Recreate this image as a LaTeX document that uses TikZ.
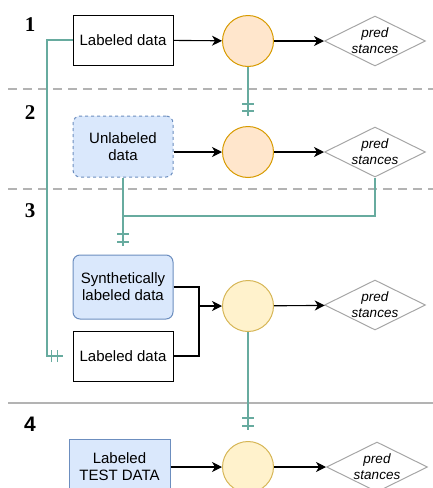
\documentclass[tikz,border=0pt]{standalone}
\usepackage{fontspec}
\setmainfont{Liberation Sans}
\newfontfamily\numserif{Liberation Serif}
\usetikzlibrary{shapes.geometric,arrows.meta,decorations.markings}
\definecolor{tealc}{HTML}{67AB9F}
\definecolor{blueF}{HTML}{DAE8FC}
\definecolor{blueS}{HTML}{6C8EBF}
\definecolor{orF}{HTML}{FFE6CC}
\definecolor{orS}{HTML}{D79B00}
\definecolor{yeF}{HTML}{FFF2CC}
\definecolor{yeS}{HTML}{D6B656}
\definecolor{grayD}{HTML}{A6A6A6}
\definecolor{sepc}{HTML}{B3B3B3}
\begin{document}
\begin{tikzpicture}[x=1pt,y=-1pt,
  box/.style={draw=black, line width=1pt, minimum width=100pt, minimum height=50pt, inner sep=0pt, align=center, font=\fontsize{15}{17}\selectfont},
  bluebox/.style={box, draw=blueS, fill=blueF, rounded corners=7pt},
  circO/.style={circle, draw=orS, fill=orF, minimum size=51pt, inner sep=0pt, line width=1pt},
  circY/.style={circO, draw=yeS, fill=yeF},
  dm/.style={diamond, draw=grayD, minimum width=101pt, minimum height=50pt, inner sep=0pt, line width=1pt},
  lbl/.style={font=\fontsize{13.5}{16}\selectfont\itshape, align=center, inner sep=0pt},
  flow/.style={-{Stealth[length=10pt,width=10pt,inset=3pt]}, line width=1.1pt, draw=black},
  erd/.style={draw=tealc, line width=2pt},
  mand/.style 2 args={postaction={decorate}, decoration={markings,
     mark=at position -#1 with {\draw[tealc,line width=1.8pt] (0pt,-6pt)--(0pt,6pt);},
     mark=at position -#2 with {\draw[tealc,line width=1.8pt] (0pt,-6pt)--(0pt,6pt);}}},
  numA/.style={font=\numserif\bfseries\fontsize{21}{21}\selectfont, inner sep=0pt},
  numB/.style={font=\bfseries\fontsize{21}{21}\selectfont, inner sep=0pt},
  sepline/.style={draw=sepc, line width=2pt}
]
\useasboundingbox (0,0) rectangle (433,488);

% separators
\draw[sepline, dash pattern=on 9pt off 6pt] (8,89) -- (433,89);
\draw[sepline, dash pattern=on 9pt off 6pt] (8,189) -- (433,189);
\draw[sepline] (8,403) -- (433,403);

% numbers
\node[numA] (n1) at (30,25) {1};
\node[numA] (n2) at (30,113) {2};
\node[numA] (n3) at (30,211) {3};
\node[numB] (n4) at (30,424) {4};

% row 1
\node[box] (ld1) at (123,40) {Labeled data};
\node[circO] (c1) at (248,41) {};
\node[dm, label={[lbl]center:pred\\stances}] (d1) at (375,41) {};

% row 2
\node[box, draw=blueS, fill=blueF, rounded corners=7pt, dashed, minimum height=61pt] (ul) at (123,146.5) {Unlabeled\\data};
\node[circO] (c2) at (248,152) {};
\node[dm, label={[lbl]center:pred\\stances}] (d2) at (375,152) {};

% row 3
\node[bluebox, minimum height=64pt] (syn) at (123,287) {Synthetically\\labeled data};
\node[box] (ld2) at (123,356) {Labeled data};
\node[circY] (c3) at (248,306) {};
\node[dm, label={[lbl]center:pred\\stances}] (d3) at (375,305) {};
\coordinate (m3) at (199,306);

% row 4
\node[bluebox, rounded corners=0pt, minimum width=101pt, minimum height=55pt] (test) at (119.5,466.5) {Labeled\\TEST DATA};
\node[circY] (c4) at (248,467) {};
\node[dm, label={[lbl]center:pred\\stances}] (d4) at (377,467) {};

% flow arrows
\draw[flow] (ld1) -- (c1);
\draw[flow] (c1) -- (d1);
\draw[flow] (ul.east |- c2) -- (c2);
\draw[flow] (c2) -- (d2);
\draw[line width=1.1pt] (syn.east) -| (m3);
\draw[line width=1.1pt] (ld2.east) -| (m3);
\draw[flow] (m3) -- (c3);
\draw[flow] (c3) -- (d3);
\draw[flow] (test.east |- c4) -- (c4);
\draw[flow] (c4) -- (d4);

% teal ERD connectors
\coordinate (t1) at ([xshift=-10pt]ld2.west);
\coordinate (t2) at (248,116);
\coordinate (j3) at (123,216);
\coordinate (t3) at (123,246);
\coordinate (t4) at (248,430);
\draw[erd, mand={5pt}{11pt}] (ld1.west) -- ++(-26,0) |- (t1);
\draw[erd, mand={5pt}{12pt}] (c1.south) -- (t2);
\draw[erd] (d2.south) |- (j3);
\draw[erd, mand={4pt}{12pt}] (ul.south) -- (j3) -- (t3);
\draw[erd, mand={4pt}{12pt}] (c3.south) -- (t4);
\end{tikzpicture}
\end{document}
